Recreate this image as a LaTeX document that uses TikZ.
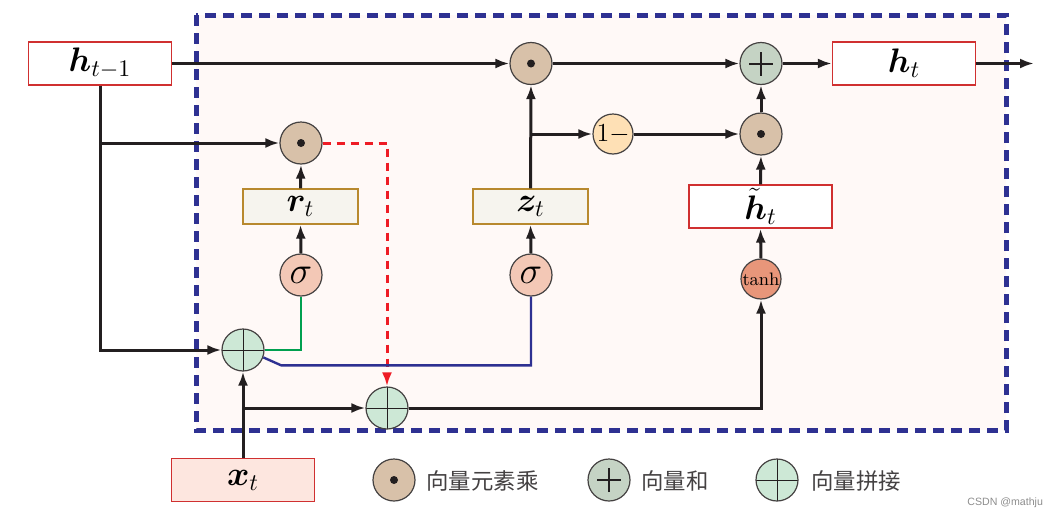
\RequirePackage{fix-cm}
\documentclass[tikz,border=0pt]{standalone}
\usepackage{amsmath}
\usepackage{bm}
\usepackage{fontspec}
\newfontfamily\cjkfont{Noto Sans CJK SC}
\newfontfamily\markfont{Liberation Sans}
\definecolor{ink}{HTML}{231F20}
\definecolor{framefill}{HTML}{FFF9F7}
\definecolor{frameblue}{HTML}{2E3192}
\definecolor{dotfill}{HTML}{D8C1A9}
\definecolor{plusfill}{HTML}{C5D3C4}
\definecolor{catfill}{HTML}{CDE8D6}
\definecolor{sigfill}{HTML}{F3C8B6}
\definecolor{tanhfill}{HTML}{E8967A}
\definecolor{omzfill}{HTML}{FEE0B5}
\definecolor{gatefill}{HTML}{F6F4EE}
\definecolor{gateline}{HTML}{B8892E}
\definecolor{stateline}{HTML}{D03030}
\definecolor{xfill}{HTML}{FDE6DF}
\definecolor{resetgreen}{HTML}{00A050}
\definecolor{resetred}{HTML}{EE1C25}
\usetikzlibrary{
  arrows.meta,
  calc,
}
\tikzset{
  >={Latex[length=7pt,width=5pt]},
  flow/.style={line width=1.5pt, draw=ink},
  op/.style={circle, draw=ink!85, line width=0.6pt, minimum size=21pt, inner sep=0pt},
  dotop/.style={op, fill=dotfill,
    path picture={\fill[ink] (path picture bounding box.center) circle (2pt);}},
  plusop/.style={op, fill=plusfill,
    path picture={\draw[ink, line width=1pt]
      ($(path picture bounding box.center)+(-6pt,0)$) -- ++(12pt,0)
      ($(path picture bounding box.center)+(0,-6pt)$) -- ++(0,12pt);}},
  catop/.style={op, fill=catfill,
    path picture={\draw[ink, line width=0.5pt]
      (path picture bounding box.north) -- (path picture bounding box.south)
      (path picture bounding box.west) -- (path picture bounding box.east);}},
  actop/.style={op, fill=sigfill, font=\fontsize{19}{19}\selectfont},
  statebox/.style={draw=stateline, line width=0.6pt, fill=white, inner sep=0pt,
    minimum width=71.5pt, minimum height=21.5pt, font=\fontsize{17}{20}\selectfont},
  gatebox/.style={draw=gateline, line width=0.6pt, fill=gatefill, inner sep=0pt,
    minimum width=57.5pt, minimum height=17.5pt, font=\fontsize{17}{20}\selectfont},
  legendtext/.style={anchor=west, inner sep=0pt, font=\cjkfont\fontsize{11.2}{12}\selectfont, text=ink!85},
}
\begin{document}
\begin{tikzpicture}[x=0.5pt, y=-0.5pt]
  \useasboundingbox (0,0) rectangle (1062,520);
  % cell frame
  \fill[framefill] (196,15) rectangle (1006,430);
  \draw[frameblue, line width=2.5pt, dash pattern=on 5.5pt off 3.5pt] (196,15) rectangle (1006,430);

  % states and gates
  \node[statebox] (hprev) at (100,63.5) {$\bm{h}_{t-1}$};
  \node[statebox] (hbox) at (904,63.5) {$\bm{h}_t$};
  \node[statebox] (hcand) at (760.5,206.5) {$\tilde{\bm{h}}_t$};
  \node[statebox, fill=xfill] (xbox) at (243,480) {$\bm{x}_t$};
  \node[gatebox] (rbox) at (300.5,206.5) {$\bm{r}_t$};
  \node[gatebox] (zbox) at (530.5,206.5) {$\bm{z}_t$};
  \coordinate (out) at (1034,63.5);

  % operators
  \node[dotop] (hdot) at (531,63.5) {};
  \node[plusop] (hplus) at (761,63.5) {};
  \node[dotop] (rdot) at (301,143) {};
  \node[dotop] (ndot) at (761,134) {};
  \node[op, fill=omzfill, minimum size=20pt, font=\fontsize{13}{13}\selectfont] (omz) at (613,134) {$1-$};
  \node[actop] (sigr) at (301,275) {$\sigma$};
  \node[actop] (sigz) at (531,275) {$\sigma$};
  \node[op, fill=tanhfill, minimum size=20pt, font=\fontsize{9}{9}\selectfont] (tanhc) at (761,279) {tanh};
  \node[catop] (cat1) at (243,350) {};
  \node[catop] (cat2) at (387,408) {};

  % connectors
  \draw[flow, ->] (hprev.east) -- (hdot.west);
  \draw[flow, ->] (hdot.east) -- (hplus.west);
  \draw[flow, ->] (hplus.east) -- (hbox.west);
  \draw[flow, ->] (hbox.east) -- (out);
  \draw[flow, ->] (hprev.south) |- (cat1.west);
  \draw[flow, ->] (hprev.south |- rdot.west) -- (rdot.west);
  \draw[resetred, line width=1.5pt, dash pattern=on 4pt off 3pt, ->] (rdot.east) -| (cat2.north);
  \draw[flow, ->] (rbox.north) -- (rdot.south);
  \draw[flow, ->] (sigr.north) -- (rbox.south);
  \draw[resetgreen, line width=1.2pt] (cat1.east) -| (sigr.south);
  \draw[frameblue, line width=1.2pt] (cat1.-20) -- ++(18,8) -| (sigz.south);
  \draw[flow, ->] (sigz.north) -- (zbox.south);
  \draw[flow, ->] (zbox.north) -- (hdot.south);
  \draw[flow, ->] (zbox.north |- omz.west) -- (omz.west);
  \draw[flow, ->] (omz.east) -- (ndot.west);
  \draw[flow, ->] (ndot.north) -- (hplus.south);
  \draw[flow, ->] (hcand.north) -- (ndot.south);
  \draw[flow, ->] (tanhc.north) -- (hcand.south);
  \draw[flow, ->] (cat2.east) -| (tanhc.south);
  \draw[flow, ->] (xbox.north) -- (cat1.south);
  \draw[flow, ->] (xbox.north |- cat2.west) -- (cat2.west);

  % legend
  \node[dotop] (ldot) at (394,480) {};
  \node[legendtext] (ldottext) at (426,481) {向量元素乘};
  \node[plusop] (lplus) at (609,480) {};
  \node[legendtext] (lplustext) at (641,481) {向量和};
  \node[catop] (lcat) at (777,480) {};
  \node[legendtext] (lcattext) at (811,481) {向量拼接};
  \node[anchor=east, font=\markfont\fontsize{5.3}{6}\selectfont, text=black!45] (mark) at (1050,503) {CSDN @mathju};
\end{tikzpicture}
\end{document}
